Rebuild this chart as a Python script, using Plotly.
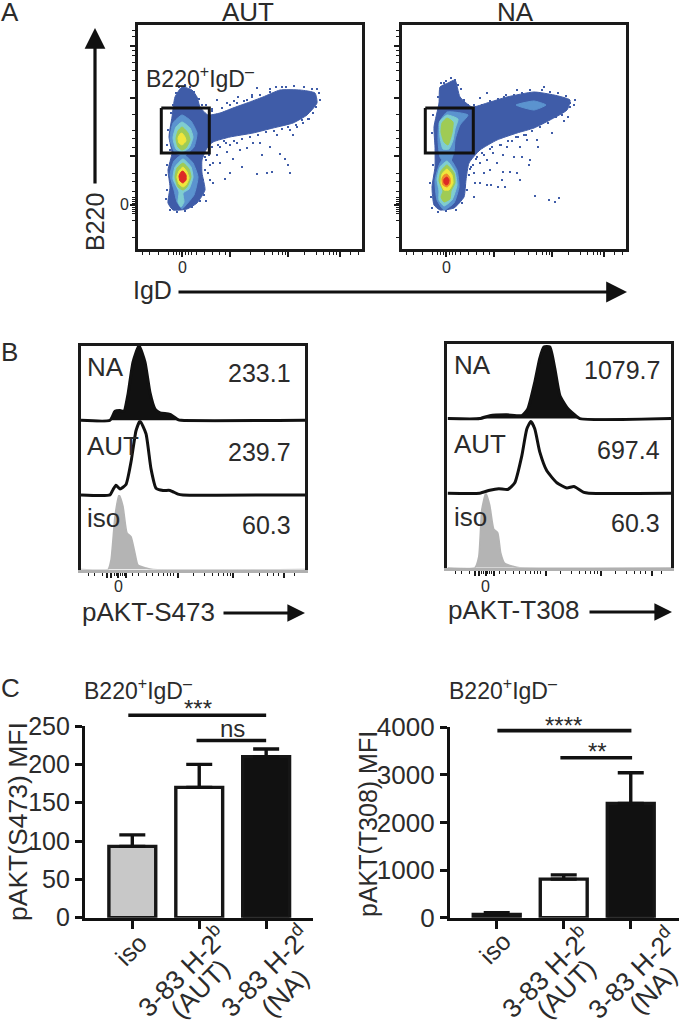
import plotly.graph_objects as go

WIDTH = 679
HEIGHT = 1021
INK = "#1a1a1a"
TEXT = "#2b2b2b"
FONT = "Liberation Sans"
HEAT = ["#3f5ca8", "#5b93cf", "#7fcdd0", "#9fcb55", "#f0e63c", "#f08a2c", "#dd2a26"]

# panel A, flow plots (display units, 0 = the labelled tick)
FLOW_RANGE = [-44, 180]
FLOW_MAJOR_X = [0, 48, 106, 158]
FLOW_MINOR_X = [-40, -33, -24, -14, -9, -6, -3, 3, 6, 9, 14, 22, 30, 37, 43, 68, 82, 90, 96, 100, 103, 122, 134, 141, 147, 151, 154, 168, 176]
FLOW_MAJOR_Y = [0, 49, 107, 159]
FLOW_MINOR_Y = [-32, -15, -8, -6, -4, -2, 2, 4, 6, 8, 14, 24, 32, 58, 67, 75, 91, 125, 135, 143, 150, 155, 169, 175]
GATE_X = [-20.7, 27.3, 27.3, -20.7, -20.7]
GATE_Y = [97, 97, 52, 52, 97]

# density regions of each plot, outer level first: (level, x, y)
AUT_REGIONS = [
    (0, [0, 10, 15, 18, 26, 38, 51, 65, 81, 98, 118, 133, 135, 125, 111, 91, 71, 48, 31, 25, 20, 20, 23, 15, 5, -9, -14, -12, -14, -10, -13, -10, -7],
     [118, 115, 108, 98, 90, 92, 97, 102, 108, 115, 115, 112, 102, 90, 82, 77, 72, 68, 63, 57, 45, 32, 15, 2, -4, -5, 2, 18, 35, 52, 68, 88, 108]),
    (1, [0, 9, 15, 12, 3, -7, -12, -9], [90, 84, 72, 58, 50, 52, 66, 82]),
    (2, [0, 8, 11, 7, 0, -6, -9, -6], [83, 77, 68, 57, 53, 56, 67, 78]),
    (3, [0, 6, 8, 4, 0, -4, -6, -4], [78, 72, 65, 57, 55, 58, 66, 74]),
    (4, [0, 3, 4, 0, -3, -4, -2], [72, 68, 64, 60, 62, 67, 71]),
    (1, [1, 11, 16, 12, 4, 0, -5, -8, -12, -8], [51, 42, 28, 10, 0, -4, 3, 15, 30, 44]),
    (2, [1, 9, 11, 7, 1, 2, -1, -4, -3, -9, -7], [46, 38, 28, 16, 12, 3, -2, 3, 13, 26, 38]),
    (3, [1, 7, 9, 5, 1, -4, -7, -5], [42, 36, 28, 18, 15, 18, 28, 37]),
    (4, [1, 5, 7, 4, 1, -3, -5, -3], [38, 33, 27, 20, 18, 21, 28, 34]),
    (6, [1, 4, 4, 1, -2, -3, -1], [34, 30, 25, 22, 24, 29, 33]),
]
NA_REGIONS = [
    (0, [9, 14, 26, 41, 61, 88, 108, 124, 121, 104, 88, 71, 51, 34, 23, 20, 18, 8, -6, -12, -14, -11, -11, -12, -7, -6, 2],
     [125, 108, 98, 102, 108, 113, 110, 105, 95, 85, 77, 72, 65, 55, 42, 25, 8, -3, -5, 0, 18, 38, 58, 78, 102, 118, 122]),
    (1, [70, 88, 100, 88], [100, 104, 100, 95]),
    (1, [1, 22, 14, 9, 8, 2, -6, -8, -7], [93, 90, 80, 65, 53, 38, 48, 65, 82]),
    (2, [1, 12, 9, 7, 3, -3, -6, -6], [90, 86, 76, 65, 56, 56, 68, 84]),
    (3, [1, 7, 6, 2, -2, -5, -4], [87, 83, 72, 60, 63, 73, 82]),
    (1, [1, 11, 13, 8, -2, -9, -11, -6], [50, 35, 18, 2, -5, 5, 25, 42]),
    (2, [1, 9, 11, 6, -2, -7, -7, -9, -6], [44, 33, 20, 5, -1, 5, 14, 26, 38]),
    (3, [1, 8, 9, 5, 4, -2, -5, -3, -7, -5], [40, 32, 22, 14, 6, 3, 8, 14, 24, 34]),
    (4, [1, 6, 7, 3, -2, -5, -4], [36, 30, 22, 15, 15, 22, 31]),
    (5, [1, 4, 4, 1, -3, -4, -2], [31, 27, 21, 18, 20, 26, 30]),
    (6, [1, 3, 2, 0, -2, -2], [28, 25, 21, 20, 22, 26]),
]
AUT_SPECK_X = [103, 106, 108, 75, 85, 90, 48, 43, 31, 24, 60, 51, 45, 35, 38, 31, 26, 28, 80, 98, 88, 78, 65, 58, 71, 48, 38, 111, 108, 121, 133, 135, 56, 75, 65, 35, 45, 100, 88, 70, 52, 30, 42, 55, 95, 115, 127, 23, 28,
               -6, -3, 3, 8, 12, 17, 20, -9, -11, -14, -15, -12, -15, -16, -15, -16, -12, -5, 3, 10, 18, 22, 21, 23, 24, 27, 30, 36, 44, 52, 60, 68, 76, 84, 92, 100, 106, 114, 120, 126, 131, 134, 138, 137, 130, 122, 112, 104, 94, 88, 78, 70, 62, 55, 48, 40, 30, 24]
AUT_SPECK_Y = [46, 40, 32, 31, 32, 33, 32, 26, 22, 4, 38, 46, 53, 50, 42, 42, 32, 25, 50, 51, 58, 62, 57, 55, 62, 60, 58, 70, 75, 82, 105, 116, 108, 117, 105, 105, 102, 118, 116, 110, 104, 96, 64, 62, 70, 78, 86, 48, 40,
               112, 118, 120, 118, 113, 106, 100, 100, 92, 75, 60, 55, 40, 30, 15, 6, -5, -7, -6, -2, 4, 10, 25, 35, 45, 50, 58, 60, 62, 64, 66, 68, 70, 73, 74, 76, 78, 80, 85, 86, 92, 98, 105, 112, 116, 118, 119, 118, 118, 113, 110, 108, 104, 102, 100, 97, 94, 100]
NA_SPECK_X = [89, 103, 109, 113, 74, 71, 64, 57, 59, 52, 56, 45, 41, 34, 28, 29, 38, 44, 51, 57, 68, 76, 83, 84, 92, 106, 91, 81, 74, 61, 47, 34, 28, 31, 41, 129, 124, 122, 114, 98, 71, 58, 34, 41, 9, 15, -2, 66, 72, 80, 55, 44, 36, 27, 24, 118, 112,
              -8, -5, 0, 5, 12, 18, 22, -13, -14, -14, -13, -16, -15, -14, -8, 0, 10, 16, 21, 23, 25, 30, 38, 46, 54, 62, 70, 78, 86, 94, 102, 110, 116, 124, 128, 120, 112, 104, 96, 84, 76, 68, 60, 52, 44, 36, 28, 20]
NA_SPECK_Y = [9, 5, 3, 7, 25, 32, 33, 33, 18, 18, 25, 20, 20, 22, 8, 22, 32, 35, 42, 50, 48, 48, 40, 45, 58, 72, 65, 65, 58, 58, 52, 42, 32, 48, 45, 105, 102, 88, 92, 118, 115, 108, 107, 112, 125, 116, 122, 64, 68, 70, 60, 56, 52, 40, 36, 84, 112,
              108, 122, 124, 127, 120, 105, 100, 90, 72, 52, 40, 22, 8, -3, -7, -6, -5, 2, 15, 30, 38, 46, 50, 58, 60, 64, 68, 70, 74, 78, 82, 88, 90, 98, 100, 109, 112, 113, 115, 115, 112, 110, 110, 106, 104, 100, 100, 95]

# panel B, histograms (x in display units, y in % of the row height)
S473_RANGE = [-37, 187]
S473_NA_X = [-37, -8, -3, 2, 6, 10, 15, 21, 27, 32, 37, 42, 52, 60, 63, 187]
S473_NA_Y = [0, 0, 12, 13, 12, 35, 78, 100, 78, 37, 15, 10, 8, 1, 0, 0]
S473_AUT_X = [-37, -8, -5, -2, 2, 8, 13, 18, 22, 28, 33, 38, 45, 52, 60, 65, 187]
S473_AUT_Y = [0, 0, 7, 13, 8, 14, 44, 86, 99, 82, 35, 9, 6, 6, 1, 0, 0]
S473_ISO_X = [-37, -10, -7, -3, 1, 5, 9, 13, 17, 20, 28, 35, 187]
S473_ISO_Y = [0, 0, 13, 72, 100, 85, 49, 44, 22, 6, 2, 0, 0]
T308_RANGE = [-38.4, 185.3]
T308_NA_X = [-38, -6, 4, 21, 36, 42, 49, 54, 58, 64, 69, 74, 81, 88, 94, 185]
T308_NA_Y = [0, 0, 4, 5, 4, 13, 49, 81, 96, 96, 67, 31, 15, 6, 0, 0]
T308_AUT_X = [-38, -6, 4, 13, 22, 29, 36, 41, 45, 49, 54, 61, 71, 81, 88, 98, 103, 185]
T308_AUT_Y = [0, 0, 4, 6, 5, 14, 50, 86, 96, 86, 55, 30, 14, 7, 9, 1, 0, 0]
T308_ISO_X = [-38, -11, -7, -4, 0, 4, 8, 12, 15, 19, 27, 34, 185]
T308_ISO_Y = [0, 0, 15, 78, 100, 84, 52, 47, 20, 6, 2, 0, 0]
HIST_MAJOR = [-11, -7, 0, 8, 60, 115, 166]
HIST_MINOR = [-30, -24, -16, -4, -2, 2, 4, 6, 14, 20, 28, 34, 40, 45, 49, 52, 55, 75, 86, 94, 100, 105, 109, 112, 130, 141, 149, 155, 160, 176]
S473_VALUES = ["233.1", "239.7", "60.3"]
T308_VALUES = ["1079.7", "697.4", "60.3"]
ROW_NAMES = ["NA", "AUT", "iso"]

# panel C, bars
CATEGORIES = [0, 1, 2]
BAR_COLORS = ["#c8c8c8", "#ffffff", "#111111"]
S473_MFI = [93, 170, 210]
S473_ERR = [15, 30, 10]
S473_TICKS = [0, 50, 100, 150, 200, 250]
T308_MFI = [70, 810, 2400]
T308_ERR = [35, 90, 645]
T308_TICKS = [0, 1000, 2000, 3000, 4000]
S473_LONG_X = [-0.06, 2.0]
S473_LONG_Y = [264, 264]
S473_SHORT_X = [0.96, 2.0]
S473_SHORT_Y = [231, 231]
T308_LONG_X = [0.01, 2.01]
T308_LONG_Y = [3930, 3930]
T308_SHORT_X = [0.95, 2.02]
T308_SHORT_Y = [3360, 3360]


def px(x):
    return x / WIDTH


def py(y):
    return 1 - y / HEIGHT


def label(text, x, y, size=25, xanchor="center", angle=0, color=TEXT):
    fig.add_annotation(
        text=text, x=px(x), y=py(y), xref="paper", yref="paper", showarrow=False,
        xanchor=xanchor, yanchor="middle", textangle=angle, borderpad=0,
        font=dict(family=FONT, size=size, color=color),
    )


def arrow(x0, y0, x1, y1, size=1.3):
    fig.add_annotation(
        x=px(x1), y=py(y1), ax=x0 - x1, ay=y0 - y1, xref="paper", yref="paper", axref="pixel", ayref="pixel",
        text="", showarrow=True, arrowhead=2, arrowsize=size, arrowwidth=3.2, arrowcolor="#111111",
    )


def flow_panel(n, left, regions, speck_x, speck_y):
    name = "" if n == 1 else str(n)
    for level, xs, ys in regions:
        fig.add_trace(go.Scatter(
            x=xs + xs[:1], y=ys + ys[:1], xaxis="x" + name, yaxis="y" + name, mode="lines",
            fill="toself", fillcolor=HEAT[level], line=dict(color=HEAT[level], width=1, shape="spline", smoothing=0.5),
            hoverinfo="skip",
        ))
    fig.add_trace(go.Scatter(
        x=speck_x, y=speck_y, xaxis="x" + name, yaxis="y" + name, mode="markers",
        marker=dict(color=HEAT[0], size=2, symbol="square"), hoverinfo="skip",
    ))
    fig.add_trace(go.Scatter(
        x=GATE_X, y=GATE_Y, xaxis="x" + name, yaxis="y" + name, mode="lines",
        line=dict(color="#111111", width=3), hoverinfo="skip",
    ))
    fig.update_layout({
        "xaxis" + name: dict(
            domain=[px(left), px(left + 224)], anchor="y" + name, range=FLOW_RANGE, showgrid=False, zeroline=False,
            showline=True, linecolor=INK, linewidth=2.6, mirror=True, tickmode="array", tickvals=FLOW_MAJOR_X,
            showticklabels=False, ticks="outside", ticklen=5, tickwidth=1.5, tickcolor=INK,
            minor=dict(tickmode="array", tickvals=FLOW_MINOR_X, ticks="outside", ticklen=3, tickwidth=1, tickcolor=INK),
        ),
        "yaxis" + name: dict(
            domain=[py(249), py(25)], anchor="x" + name, range=FLOW_RANGE, showgrid=False, zeroline=False,
            showline=True, linecolor=INK, linewidth=2.6, mirror=True, tickmode="array", tickvals=FLOW_MAJOR_Y,
            showticklabels=False, ticks="outside", ticklen=5, tickwidth=1.5, tickcolor=INK,
            minor=dict(tickmode="array", tickvals=FLOW_MINOR_Y, ticks="outside", ticklen=3, tickwidth=1, tickcolor=INK),
        ),
    })


def hist_panel(first, left, top, x_range, curves):
    row_h = 74.6
    extra = 2.5  # room under each baseline so its thick line is not clipped
    for i, (xs, ys) in enumerate(curves):
        n = str(first + i)
        iso = i == 2
        filled = i != 1
        line_color = "#b4b4b4" if iso else "#111111"
        fig.add_trace(go.Scatter(
            x=xs, y=ys, xaxis="x" + n, yaxis="y" + n, mode="lines",
            line=dict(color=line_color, width=1.5 if iso else 3, shape="spline", smoothing=0.5),
            fill="tozeroy" if filled else None, fillcolor=line_color if filled else None,
            hoverinfo="skip",
        ))
        y0 = top + row_h * i
        x_ax = dict(
            domain=[px(left), px(left + 224)], anchor="y" + n, range=x_range, showgrid=False, zeroline=False,
            showticklabels=False, ticks="",
        )
        if i == 0:
            x_ax.update(side="top", showline=True, linecolor=INK, linewidth=2.6)
        if iso:
            x_ax.update(
                showline=True, linecolor="#b0b0b0", linewidth=3, tickmode="array",
                tickvals=HIST_MAJOR, ticks="outside", ticklen=5, tickwidth=1.5, tickcolor=INK,
                minor=dict(tickmode="array", tickvals=HIST_MINOR, ticks="outside", ticklen=3, tickwidth=1, tickcolor=INK),
            )
        low = 0 if iso else -extra / row_h * 100
        bottom = y0 + row_h if iso else y0 + row_h + extra
        fig.update_layout({
            "xaxis" + n: x_ax,
            "yaxis" + n: dict(
                domain=[py(bottom), py(y0)], anchor="x" + n, range=[low, 100], showgrid=False, zeroline=False,
                showticklabels=False, ticks="", showline=True, linecolor=INK, linewidth=2.6, mirror=True,
            ),
        })


def bar_panel(n, left, right, top, x_range, values, errors, y_ticks, y_max, lines, tick_size):
    over = n + 10
    n = str(n)
    base = 917.7
    fig.add_trace(go.Bar(
        x=CATEGORIES, y=values, xaxis="x" + n, yaxis="y" + n, width=0.7,
        marker=dict(color=BAR_COLORS, line=dict(color="#161616", width=3.4)),
        error_y=dict(type="data", symmetric=False, array=errors, arrayminus=[0, 0, 0], color="#111111", thickness=3.4, width=13),
        hoverinfo="skip",
    ))
    # brackets sit above the axis top, so they use a hidden taller axis of the same scale
    tall_top = 700
    for xs, ys in lines:
        fig.add_trace(go.Scatter(
            x=xs, y=ys, xaxis="x" + n, yaxis="y" + str(over), mode="lines",
            line=dict(color="#111111", width=3.6), hoverinfo="skip",
        ))
    fig.update_layout({
        "xaxis" + n: dict(
            domain=[px(left), px(right)], anchor="y" + n, range=x_range, showgrid=False, zeroline=False,
            showline=True, linecolor="#111111", linewidth=3.2, tickmode="array", tickvals=CATEGORIES,
            showticklabels=False, ticks="outside", ticklen=8, tickwidth=3, tickcolor="#111111",
        ),
        "yaxis" + n: dict(
            domain=[py(base), py(top)], anchor="x" + n, range=[0, y_max], showgrid=False, zeroline=False,
            showline=True, linecolor="#111111", linewidth=3.2, tickmode="array", tickvals=y_ticks,
            ticks="outside", ticklen=7, tickwidth=3, tickcolor="#111111",
            tickfont=dict(family=FONT, size=tick_size, color=TEXT),
        ),
        "yaxis" + str(over): dict(
            domain=[py(base), py(tall_top)], anchor="x" + n, range=[0, y_max * (base - tall_top) / (base - top)],
            visible=False,
        ),
    })


fig = go.Figure()

flow_panel(1, 138, AUT_REGIONS, AUT_SPECK_X, AUT_SPECK_Y)
flow_panel(2, 402, NA_REGIONS, NA_SPECK_X, NA_SPECK_Y)
hist_panel(3, 81, 345.7, S473_RANGE, [(S473_NA_X, S473_NA_Y), (S473_AUT_X, S473_AUT_Y), (S473_ISO_X, S473_ISO_Y)])
hist_panel(6, 447.3, 344, T308_RANGE, [(T308_NA_X, T308_NA_Y), (T308_AUT_X, T308_AUT_Y), (T308_ISO_X, T308_ISO_Y)])
bar_panel(9, 85, 313, 726, [-0.707, 2.70], S473_MFI, S473_ERR, S473_TICKS, 250,
          [(S473_LONG_X, S473_LONG_Y), (S473_SHORT_X, S473_SHORT_Y)], 25)
bar_panel(10, 450, 679, 727.3, [-0.697, 2.72], T308_MFI, T308_ERR, T308_TICKS, 4000,
          [(T308_LONG_X, T308_LONG_Y), (T308_SHORT_X, T308_SHORT_Y)], 26)

# panel letters and headings
label("A", 0, 12, size=26, xanchor="left")
label("B", 0, 352, size=26, xanchor="left")
label("C", 0, 688, size=26, xanchor="left")
label("AUT", 248, 12, size=26)
label("NA", 515, 12, size=26)
label("B220<sup>+</sup>IgD<sup>–</sup>", 145, 77, size=23, xanchor="left")
label("B220", 95, 222, angle=-90)
label("IgD", 152, 290)
arrow(95, 185, 95, 28)
arrow(177, 292, 627, 292)
label("0", 182, 268, size=16)
label("0", 446, 268, size=16)
label("0", 124, 205, size=16)

# histogram labels
for i, name in enumerate(ROW_NAMES):
    label(name, 86, [367, 446, 518][i], size=26, xanchor="left")
    label(S473_VALUES[i], 292, [373, 452, 525][i], xanchor="right")
    label(name, 453, [365, 444, 517][i], size=26, xanchor="left")
    label(T308_VALUES[i], 661, [370, 450, 523][i], xanchor="right")
label("0", 118.3, 586, size=16)
label("0", 485.7, 586, size=16)
label("pAKT-S473", 81, 612, size=26, xanchor="left")
label("pAKT-T308", 447, 610, size=26, xanchor="left")
arrow(222, 613, 305, 613, size=1.1)
arrow(588, 612, 672, 612, size=1.1)

# bar panel labels
label("B220<sup>+</sup>IgD<sup>–</sup>", 83, 689, size=23, xanchor="left")
label("B220<sup>+</sup>IgD<sup>–</sup>", 448, 689, size=23, xanchor="left")
label("pAKT(S473) MFI", 18, 822, size=26.5, angle=-90)
label("pAKT(T308) MFI", 368, 824, angle=-90)
label("***", 198, 708, size=24)
label("ns", 232, 728, size=24)
label("****", 563, 725, size=24)
label("**", 597, 751, size=24)
label("iso", 130.7, 950, angle=-45)
label("3-83 H-2<sup>b</sup>", 181, 971, size=26.5, angle=-45)
label("(AUT)", 200, 989, size=26.5, angle=-45)
label("3-83 H-2<sup>d</sup>", 264, 971, size=26.5, angle=-45)
label("(NA)", 285, 993, size=26.5, angle=-45)
label("iso", 495, 948, angle=-45)
label("3-83 H-2<sup>b</sup>", 545, 972, size=26.5, angle=-45)
label("(AUT)", 566, 989, size=26.5, angle=-45)
label("3-83 H-2<sup>d</sup>", 631, 973, size=26.5, angle=-45)
label("(NA)", 653, 990, size=26.5, angle=-45)

fig.update_layout(
    width=WIDTH, height=HEIGHT, margin=dict(l=0, r=0, t=0, b=0, autoexpand=False),
    paper_bgcolor="white", plot_bgcolor="rgba(0,0,0,0)", showlegend=False, barmode="overlay",
    font=dict(family=FONT, color=TEXT),
)

fig.write_html("out.html", config=dict(displayModeBar=False), post_script="document.body.style.margin='0';")
